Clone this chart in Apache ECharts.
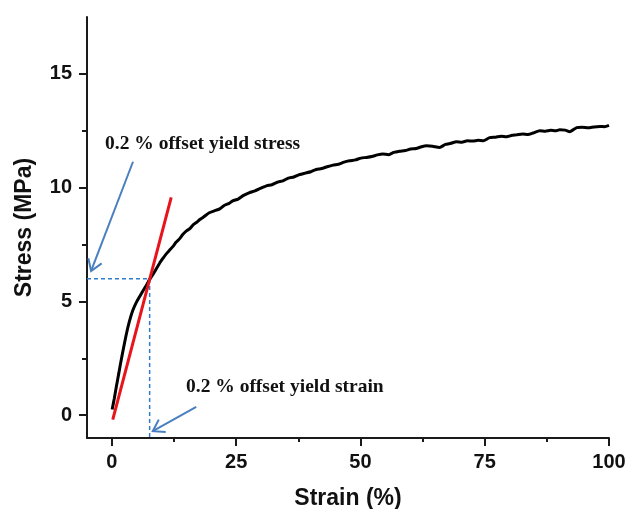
<!DOCTYPE html>
<html>
<head>
<meta charset="utf-8">
<script src="https://cdn.jsdelivr.net/npm/echarts@6/dist/echarts.min.js"></script>
<style>
  html, body { margin: 0; padding: 0; background: #fff; }
  #chart { width: 629px; height: 509px; }
</style>
</head>
<body>
<div id="chart"></div>
<script>
// stress-strain curve
const strain = [0.06, 0.5, 0.9, 1.4, 1.9, 2.3, 2.9, 3.5, 4.2, 4.9, 5.6, 6.3, 7.0, 7.6, 8.3, 8.9, 9.6, 10.3, 10.9, 11.6,
  12.3, 12.9, 13.6, 14.3, 15.0, 15.7, 16.4, 17.0, 17.7, 18.5, 19.6, 20.6, 21.7, 22.6, 23.5, 24.3, 25.4, 26.5, 27.7, 28.8,
  30.0, 31.1, 32.2, 33.3, 34.4, 35.5, 36.6, 37.8, 38.9, 40.0, 41.1, 42.2, 43.3, 44.5, 45.6, 46.7, 47.8, 49.0, 50.1, 51.2,
  52.3, 53.4, 54.5, 55.6, 56.7, 57.9, 59.0, 60.1, 61.2, 62.3, 63.3, 64.5, 65.9, 67.1, 68.2, 69.3, 70.4, 71.5, 72.6, 73.7,
  74.7, 76.0, 77.2, 78.3, 79.4, 80.5, 81.4, 82.6, 83.7, 84.7, 86.1, 87.2, 88.3, 89.2, 90.1, 91.2, 92.1, 93.5, 94.6, 95.8,
  97.0, 98.2, 99.1, 100]
const stress = [0.25, 0.75, 1.25, 1.85, 2.45, 2.9, 3.55, 4.1, 4.6, 4.95, 5.22, 5.48, 5.73, 5.97, 6.2, 6.42, 6.68, 6.9, 7.08, 7.25,
  7.42, 7.6, 7.75, 7.95, 8.1, 8.2, 8.38, 8.47, 8.6, 8.72, 8.9, 8.98, 9.07, 9.22, 9.3, 9.42, 9.5, 9.66, 9.78, 9.86,
  9.98, 10.08, 10.13, 10.24, 10.3, 10.42, 10.47, 10.58, 10.64, 10.7, 10.8, 10.84, 10.92, 10.99, 11.03, 11.12, 11.18, 11.22, 11.3, 11.33,
  11.37, 11.44, 11.48, 11.45, 11.55, 11.6, 11.63, 11.7, 11.72, 11.8, 11.84, 11.82, 11.77, 11.9, 11.95, 12.02, 12.0, 12.06, 12.05, 12.08,
  12.06, 12.2, 12.22, 12.26, 12.24, 12.3, 12.32, 12.36, 12.34, 12.4, 12.5, 12.48, 12.52, 12.5, 12.54, 12.53, 12.46, 12.64, 12.66, 12.63,
  12.67, 12.69, 12.68, 12.74]

// elastic (offset) line
const offsetLine = [[0.18, -0.19], [11.94, 9.57]]
// yield point guide lines
const yieldStrain = 7.6
const yieldStress = 6.0
// annotation arrows: [fromX, fromY, toX, toY]
const arrows = [[4.25, 11.14, -4.17, 6.34], [16.97, 0.37, 8.23, -0.70]]

const xMajor = [0, 25, 50, 75, 100]
const xMinor = [12.5, 37.5, 62.5, 87.5]
const yMajor = [0, 5, 10, 15]
const yMinor = [2.5, 7.5, 12.5]

const axisColor = '#1a1a1a'
const labelFont = { color: '#111', fontFamily: 'Liberation Sans', fontWeight: 'bold', fontSize: 20 }

const chart = echarts.init(document.getElementById('chart'))

const option = {
  animation: false,
  backgroundColor: '#fff',
  grid: { left: 87, right: 20, top: 17, bottom: 71, containLabel: false, outerBoundsMode: 'none' },
  xAxis: [
    {
      type: 'value', min: -5, max: 100,
      name: 'Strain (%)', nameLocation: 'middle', nameGap: 49,
      nameTextStyle: { ...labelFont, fontSize: 23 },
      splitLine: { show: false },
      axisLine: { show: true, onZero: false, lineStyle: { color: axisColor, width: 2 } },
      axisTick: { show: true, length: 8, customValues: xMajor, lineStyle: { color: axisColor, width: 2 } },
      axisLabel: { ...labelFont, margin: 14, customValues: xMajor },
    },
    {
      type: 'value', min: -5, max: 100, position: 'bottom',
      splitLine: { show: false },
      axisLine: { show: false, onZero: false },
      axisTick: { show: true, length: 4, customValues: xMinor, lineStyle: { color: axisColor, width: 2 } },
      axisLabel: { show: false },
    },
  ],
  yAxis: [
    {
      type: 'value', min: -1, max: 17.5,
      name: 'Stress (MPa)', nameLocation: 'middle', nameGap: 51,
      nameTextStyle: { ...labelFont, fontSize: 23 },
      splitLine: { show: false },
      axisLine: { show: true, onZero: false, lineStyle: { color: axisColor, width: 2 } },
      axisTick: { show: true, length: 8, customValues: yMajor, lineStyle: { color: axisColor, width: 2 } },
      axisLabel: { ...labelFont, margin: 15, customValues: yMajor },
    },
    {
      type: 'value', min: -1, max: 17.5, position: 'left',
      splitLine: { show: false },
      axisLine: { show: false, onZero: false },
      axisTick: { show: true, length: 5, customValues: yMinor, lineStyle: { color: axisColor, width: 2 } },
      axisLabel: { show: false },
    },
  ],
  series: [
    {
      type: 'line',
      data: [[-5, yieldStress], [yieldStrain, yieldStress], [yieldStrain, -1]],
      symbol: 'none',
      lineStyle: { color: '#2f7ccc', width: 1.5, type: [4, 3] },
      z: 2,
    },
    {
      type: 'line',
      data: strain.map((s, i) => [s, stress[i]]),
      symbol: 'none',
      smooth: 0.2,
      lineStyle: { color: '#000', width: 3 },
      z: 3,
    },
    {
      type: 'line',
      data: offsetLine,
      symbol: 'none',
      lineStyle: { color: '#e8141b', width: 3 },
      z: 4,
    },
    {
      type: 'custom',
      data: arrows,
      encode: { x: [0, 2], y: [1, 3] },
      z: 5,
      renderItem: function (params, api) {
        const p1 = api.coord([api.value(0), api.value(1)])
        const p2 = api.coord([api.value(2), api.value(3)])
        const ang = Math.atan2(p1[1] - p2[1], p1[0] - p2[0])
        const len = 13
        const spread = 0.58
        const b1 = [p2[0] + len * Math.cos(ang - spread), p2[1] + len * Math.sin(ang - spread)]
        const b2 = [p2[0] + len * Math.cos(ang + spread), p2[1] + len * Math.sin(ang + spread)]
        const style = { stroke: '#4a7fbf', lineWidth: 2, fill: null }
        return {
          type: 'group',
          children: [
            { type: 'line', shape: { x1: p1[0], y1: p1[1], x2: p2[0], y2: p2[1] }, style: style },
            { type: 'polyline', shape: { points: [b1, p2, b2] }, style: style },
          ],
        }
      },
    },
  ],
  graphic: [
    {
      type: 'text', left: 105, top: 134,
      style: { text: '0.2 % offset yield stress', fill: '#111', font: 'bold 19.5px "Liberation Serif"' },
    },
    {
      type: 'text', left: 186, top: 377,
      style: { text: '0.2 % offset yield strain', fill: '#111', font: 'bold 19.5px "Liberation Serif"' },
    },
  ],
}

chart.setOption(option)
</script>
</body>
</html>
